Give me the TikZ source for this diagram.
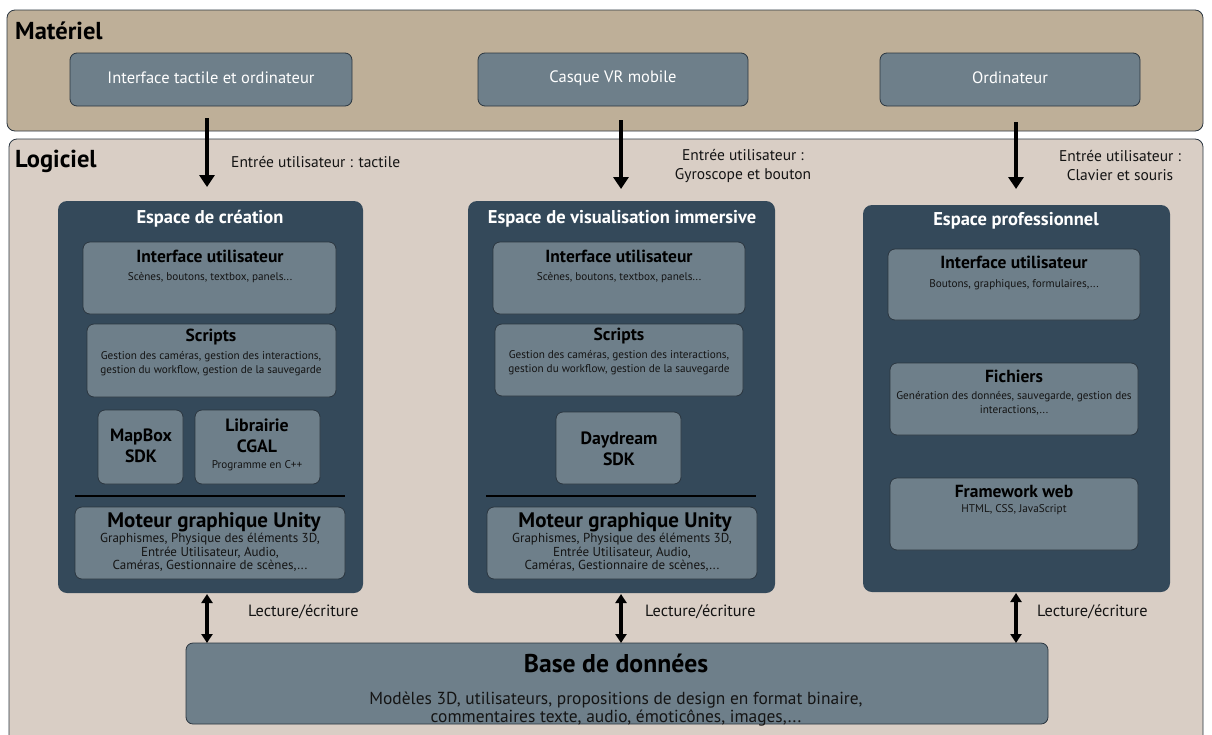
\documentclass[tikz,border=0pt]{standalone}
\usepackage{fontspec}
\setmainfont{PT Sans}
\usetikzlibrary{arrows.meta,fit}
\definecolor{matc}{HTML}{BEAF98}
\definecolor{logc}{HTML}{D9CEC5}
\definecolor{darkc}{HTML}{34495A}
\definecolor{subc}{HTML}{6E7F8A}
\definecolor{bordc}{HTML}{2B3640}
\definecolor{txtc}{HTML}{141414}
\newcommand{\fs}[1]{\fontsize{#1}{20}\selectfont}
\tikzset{
  band/.style={draw=bordc, line width=0.8pt, rounded corners=8pt, inner sep=0pt},
  hwbox/.style={draw=bordc, fill=subc, rounded corners=7pt, line width=0.8pt, inner sep=0pt},
  spacebox/.style={draw=none, fill=darkc, rounded corners=9pt, inner sep=0pt},
  subbox/.style={draw=bordc, fill=subc, rounded corners=7pt, line width=0.8pt, inner sep=0pt},
  txt/.style={inner sep=0pt, align=center, text=txtc},
  ttl/.style={inner sep=0pt, align=center, text=black, font=\bfseries\fontsize{17.5}{20}\selectfont},
  big/.style={inner sep=0pt, align=center, text=black, font=\bfseries\fontsize{17.8}{21}\selectfont},
  sml/.style={inner sep=0pt, align=center, text=txtc, font=\fontsize{11.2}{14}\selectfont},
  mot/.style={inner sep=0pt, align=center, text=txtc, font=\fontsize{13}{13.6}\selectfont},
  arr/.style={line width=3.6pt, -{Triangle[width=15pt,length=12pt]}},
  barr/.style={line width=3.2pt, {Triangle[width=11pt,length=9pt]}-{Triangle[width=11pt,length=9pt]}},
}
\begin{document}
\begin{tikzpicture}[x=1pt,y=-1pt]
\useasboundingbox[fill=white] (0,0) rectangle (1212,734);
% bands
\node[band, fill=matc, fit={(7,10) (1203,131)}] (mat) {};
\node[band, fill=logc, fit={(9,139) (1203,760)}] (log) {};
\node[inner sep=0pt, anchor=west, font=\bfseries\fs{24.5}] (matt) at (15,31) {Matériel};
\node[inner sep=0pt, anchor=west, font=\bfseries\fs{24.5}] (logt) at (15,161) {Logiciel};
% hardware
\node[hwbox, fit={(70,53) (352,106)}] (hw1) {};
\node[hwbox, fit={(478,53) (748,106)}] (hw2) {};
\node[hwbox, fit={(880,53) (1140,106)}] (hw3) {};
\node[inner sep=0pt, text=white, font=\fs{16.5}] (hw1t) at (211,78) {Interface tactile et ordinateur};
\node[inner sep=0pt, text=white, font=\fs{16.5}] (hw2t) at (613,78) {Casque VR mobile};
\node[inner sep=0pt, text=white, font=\fs{16.5}] (hw3t) at (1010,78) {Ordinateur};
% spaces
\node[spacebox, fit={(58,201) (363,593)}] (s1) {};
\node[spacebox, fit={(468,201) (775,593)}] (s2) {};
\node[spacebox, fit={(863,205) (1170,592)}] (s3) {};
\node[inner sep=0pt, text=white, font=\bfseries\fs{18.5}] (s1t) at (210,219) {Espace de création};
\node[inner sep=0pt, text=white, font=\bfseries\fs{18.5}] (s2t) at (622,219) {Espace de visualisation immersive};
\node[inner sep=0pt, text=white, font=\bfseries\fs{18.5}] (s3t) at (1016,221) {Espace professionnel};
% --- left column
\node[subbox, fit={(83,242) (336,314)}] (l1) {};
\node[ttl] (l1t) at (210,256) {Interface utilisateur};
\node[sml] (l1d) at (210,278) {Scènes, boutons, textbox, panels...};
\node[subbox, fit={(87,324) (336,397)}] (l2) {};
\node[ttl] (l2t) at (211,337) {Scripts};
\node[sml] (l2d) at (211,364) {Gestion des caméras, gestion des interactions,\\gestion du workflow, gestion de la sauvegarde};
\node[subbox, fit={(98,410) (183,484)}] (l3) {};
\node[big] (l3t) at (141,446) {MapBox\\SDK};
\node[subbox, fit={(195,410) (320,484)}] (l4) {};
\node[big] (l4t) at (257,436) {Librairie\\CGAL};
\node[sml] (l4d) at (257,466) {Programme en C++};
\draw[line width=2.6pt] (75,496) coordinate (l5a) -- (345,496) coordinate (l5b);
\node[subbox, fit={(75,507) (345,579)}] (l6) {};
\node[ttl, font=\bfseries\fontsize{21}{24}\selectfont] (l6t) at (214,522) {Moteur graphique Unity};
\node[mot] (l6d) at (210,552.5) {Graphismes, Physique des éléments 3D,\\Entrée Utilisateur, Audio,\\Caméras, Gestionnaire de scènes,...};
% --- middle column
\node[subbox, fit={(493,242) (745,314)}] (m1) {};
\node[ttl] (m1t) at (619,256) {Interface utilisateur};
\node[sml] (m1d) at (619,278) {Scènes, boutons, textbox, panels...};
\node[subbox, fit={(495,324) (743,396)}] (m2) {};
\node[ttl] (m2t) at (619,336) {Scripts};
\node[sml] (m2d) at (619,363) {Gestion des caméras, gestion des interactions,\\gestion du workflow, gestion de la sauvegarde};
\node[subbox, fit={(556,412) (681,484)}] (m3) {};
\node[big] (m3t) at (619,449) {Daydream\\SDK};
\draw[line width=2.6pt] (486,496) coordinate (m5a) -- (756,496) coordinate (m5b);
\node[subbox, fit={(487,507) (757,579)}] (m6) {};
\node[ttl, font=\bfseries\fontsize{21}{24}\selectfont] (m6t) at (625,522) {Moteur graphique Unity};
\node[mot] (m6d) at (622,552.5) {Graphismes, Physique des éléments 3D,\\Entrée Utilisateur, Audio,\\Caméras, Gestionnaire de scènes,...};
% --- right column
\node[subbox, fit={(888,249) (1140,320)}] (r1) {};
\node[ttl] (r1t) at (1014,262) {Interface utilisateur};
\node[sml] (r1d) at (1014,285) {Boutons, graphiques, formulaires,...};
\node[subbox, fit={(890,363) (1138,435)}] (r2) {};
\node[ttl] (r2t) at (1014,376) {Fichiers};
\node[sml] (r2d) at (1014,403) {Genération des données, sauvegarde, gestion des\\interactions,...};
\node[subbox, fit={(890,478) (1138,550)}] (r3) {};
\node[ttl] (r3t) at (1014,491) {Framework web};
\node[sml] (r3d) at (1014,510) {HTML, CSS, JavaScript};
% --- database
\node[subbox, fit={(186,643) (1048,724)}] (db) {};
\node[inner sep=0pt, text=black, font=\bfseries\fontsize{25.7}{28}\selectfont] (dbt) at (616,663) {Base de données};
\node[txt, font=\fontsize{17.4}{18.5}\selectfont] (dbd) at (616,709) {Modèles 3D, utilisateurs, propositions de design en format binaire,\\commentaires texte, audio, émoticônes, images,...};
% --- input arrows
\coordinate (a1s) at (207,118); \coordinate (a1e) at (207,187);
\coordinate (a2s) at (621,120); \coordinate (a2e) at (621,189);
\coordinate (a3s) at (1016,122); \coordinate (a3e) at (1016,189);
\draw[arr] (a1s) -- (a1e);
\draw[arr] (a2s) -- (a2e);
\draw[arr] (a3s) -- (a3e);
\node[txt, anchor=west, font=\fs{15.5}] (in1) at (231,162) {Entrée utilisateur : tactile};
\node[txt, font=\fontsize{15.5}{19}\selectfont] (in2) at (743,166) {Entrée utilisateur :\\Gyroscope et bouton};
\node[txt, font=\fontsize{15.5}{19}\selectfont] (in3) at (1120,166) {Entrée utilisateur :\\Clavier et souris};
% --- read/write arrows
\coordinate (b1s) at (207,594); \coordinate (b1e) at (207,643);
\coordinate (b2s) at (621,594); \coordinate (b2e) at (621,643);
\coordinate (b3s) at (1016,593); \coordinate (b3e) at (1016,643);
\draw[barr] (b1s) -- (b1e);
\draw[barr] (b2s) -- (b2e);
\draw[barr] (b3s) -- (b3e);
\node[txt, anchor=west, font=\fs{16.3}] (rw1) at (248,612) {Lecture/écriture};
\node[txt, anchor=west, font=\fs{16.3}] (rw2) at (645,612) {Lecture/écriture};
\node[txt, anchor=west, font=\fs{16.3}] (rw3) at (1037,612) {Lecture/écriture};
\end{tikzpicture}
\end{document}
